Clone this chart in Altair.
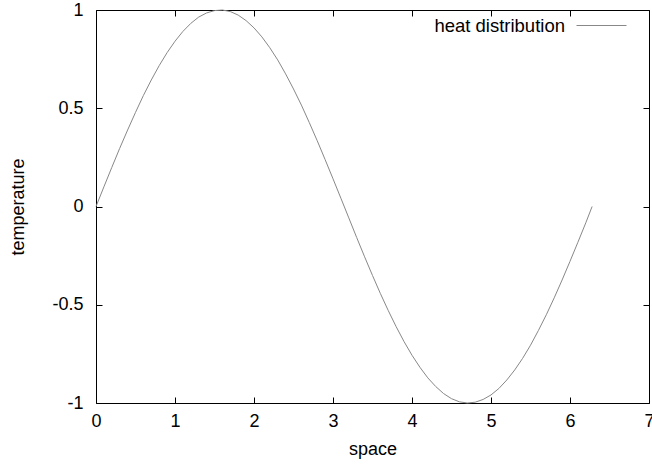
import altair as alt
import pandas as pd

# values
space = [0.0, 0.1, 0.2, 0.3, 0.4, 0.5, 0.6, 0.7, 0.8, 0.9,
         1.0, 1.1, 1.2, 1.3, 1.4, 1.5, 1.6, 1.7, 1.8, 1.9,
         2.0, 2.1, 2.2, 2.3, 2.4, 2.5, 2.6, 2.7, 2.8, 2.9,
         3.0, 3.1, 3.2, 3.3, 3.4, 3.5, 3.6, 3.7, 3.8, 3.9,
         4.0, 4.1, 4.2, 4.3, 4.4, 4.5, 4.6, 4.7, 4.8, 4.9,
         5.0, 5.1, 5.2, 5.3, 5.4, 5.5, 5.6, 5.7, 5.8, 5.9,
         6.0, 6.1, 6.2, 6.28]
temperature = [0.000, 0.100, 0.199, 0.296, 0.389, 0.479, 0.565, 0.644, 0.717, 0.783,
               0.841, 0.891, 0.932, 0.964, 0.985, 0.997, 1.000, 0.992, 0.974, 0.946,
               0.909, 0.863, 0.808, 0.746, 0.675, 0.598, 0.516, 0.427, 0.335, 0.239,
               0.141, 0.042, -0.058, -0.158, -0.256, -0.351, -0.443, -0.530, -0.612, -0.688,
               -0.757, -0.818, -0.872, -0.916, -0.952, -0.978, -0.994, -1.000, -0.996, -0.982,
               -0.959, -0.926, -0.883, -0.832, -0.773, -0.706, -0.631, -0.551, -0.465, -0.374,
               -0.279, -0.182, -0.083, 0.000]
series = ["heat distribution"] * len(space)
x_ticks = [0, 1, 2, 3, 4, 5, 6, 7]
y_ticks = [-1, -0.5, 0, 0.5, 1]

df = pd.DataFrame({"space": space, "temperature": temperature, "series": series})

W, H = 553, 393
FONT = "Liberation Sans"

chart = alt.Chart(df).mark_line(strokeWidth=1, color="#888888").encode(
    x=alt.X("space:Q", scale=alt.Scale(domain=[0, 7], nice=False, zero=False),
            axis=alt.Axis(values=x_ticks, title="space",
                          labelExpr="toString(datum.value)",
                          grid=True, gridColor="black", gridWidth=1, gridOpacity=1,
                          gridDash=[6, H - 12, 6, 2000],
                          ticks=False, domain=False, labelPadding=9,
                          labelFlush=False, labelOverlap=False,
                          labelFontSize=18, titleFontSize=18, titlePadding=10,
                          labelFont=FONT, titleFont=FONT, titleFontWeight="normal",
                          labelColor="black", titleColor="black")),
    y=alt.Y("temperature:Q", scale=alt.Scale(domain=[-1, 1], nice=False),
            axis=alt.Axis(values=y_ticks, title="temperature",
                          labelExpr="toString(datum.value)",
                          grid=True, gridColor="black", gridWidth=1, gridOpacity=1,
                          gridDash=[6, W - 12, 6, 2000],
                          ticks=False, domain=False, labelPadding=13,
                          labelFontSize=18, titleFontSize=18, titlePadding=24,
                          labelFont=FONT, titleFont=FONT, titleFontWeight="normal",
                          labelColor="black", titleColor="black",
                          labelFlush=False, labelOverlap=False)),
    stroke=alt.Stroke("series:N", scale=alt.Scale(range=["#888888"]),
                      legend=alt.Legend(title=None, orient="none", legendX=480, legendY=-10,
                                        symbolType="stroke", symbolSize=2500,
                                        symbolStrokeWidth=1, labelAlign="right",
                                        labelOffset={"expr": "-62"}, labelFontSize=18.5,
                                        labelFont=FONT, labelColor="black")),
).properties(
    width=W, height=H,
    padding={"left": 96, "top": 10, "right": 3, "bottom": 61},
    autosize=alt.AutoSizeParams(type="none"),
    background="white",
).configure_view(stroke="black", strokeWidth=1)

chart.save("out.html", embed_options={"renderer": "svg", "actions": False})
